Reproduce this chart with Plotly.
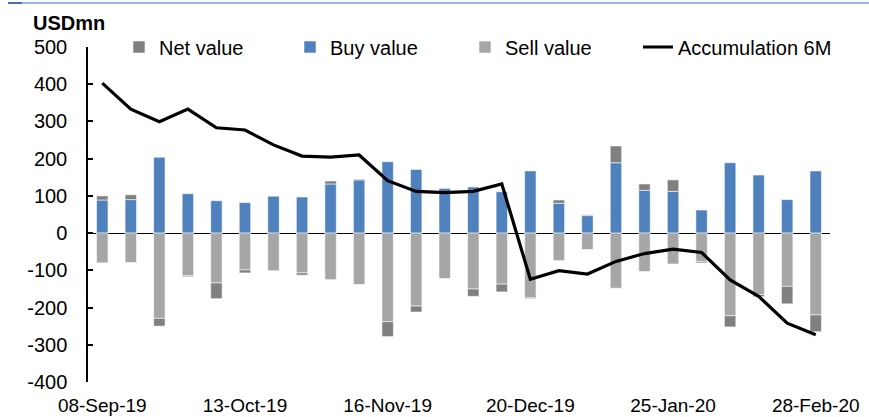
import plotly.graph_objects as go

dates = ["08-Sep-19", "15-Sep-19", "22-Sep-19", "29-Sep-19", "06-Oct-19",
         "13-Oct-19", "20-Oct-19", "27-Oct-19", "03-Nov-19", "09-Nov-19",
         "16-Nov-19", "23-Nov-19", "30-Nov-19", "07-Dec-19", "14-Dec-19",
         "20-Dec-19", "27-Dec-19", "03-Jan-20", "10-Jan-20", "17-Jan-20",
         "25-Jan-20", "01-Feb-20", "08-Feb-20", "15-Feb-20", "22-Feb-20",
         "28-Feb-20"]
tick_labels = ["08-Sep-19", "13-Oct-19", "16-Nov-19", "20-Dec-19", "25-Jan-20", "28-Feb-20"]
y_tick_values = [-400, -300, -200, -100, 0, 100, 200, 300, 400, 500]
y_tick_labels = ["-400", "-300", "-200", "-100", "0", "100", "200", "300", "400", "500"]

buy_value = [89, 90, 204, 106, 87, 82, 100, 97, 132, 143, 192, 171, 121,
             124, 111, 167, 80, 47, 189, 115, 112, 62, 189, 156, 90, 167]
sell_value = [-80, -79, -229, -114, -134, -99, -101, -107, -125, -138, -238,
              -196, -122, -150, -137, -174, -74, -44, -148, -103, -83, -76,
              -222, -165, -143, -220]
net_value = [11, 13, -21, -3, -42, -8, 0, -6, 8, 2, -40, -16, 0, -20, -21,
             -2, 9, 2, 45, 17, 31, -4, -30, -6, -47, -45]
accumulation_6m = [403, 333, 299, 333, 283, 277, 237, 207, 204, 210, 141, 112,
                   109, 112, 132, -124, -101, -110, -76, -55, -43, -52, -126,
                   -170, -242, -273]

FONT = "Liberation Sans, Arial, sans-serif"
FS = 20
edge = dict(color="rgba(255,255,255,0.55)", width=1)

fig = go.Figure()
fig.add_trace(go.Bar(x=dates, y=buy_value, name="Buy value",
                     marker=dict(color="#4F81BD", line=edge), legend="legend2"))
fig.add_trace(go.Bar(x=dates, y=sell_value, name="Sell value",
                     marker=dict(color="#A6A6A6", line=edge), legend="legend3"))
fig.add_trace(go.Bar(x=dates, y=net_value, name="Net value",
                     marker=dict(color="#808080", line=edge), legend="legend"))
fig.add_trace(go.Scatter(x=dates, y=accumulation_6m, name="Accumulation 6M",
                         mode="lines", line=dict(color="black", width=3.2),
                         legend="legend4"))

W, H = 869, 417
ml, mr, mt, mb = 88, 39, 47, 35
pw = W - ml - mr
ph = H - mt - mb

def px_x(p):
    return (p - ml) / pw

def px_y(p):
    return 1 + (mt - p) / ph

def leg(xpx):
    return dict(orientation="h", x=px_x(xpx), xanchor="left",
                y=px_y(47), yanchor="middle", bgcolor="rgba(0,0,0,0)",
                font=dict(size=FS), itemwidth=30)

fig.update_layout(
    width=W, height=H,
    margin=dict(l=ml, r=mr, t=mt, b=mb, autoexpand=False),
    paper_bgcolor="white", plot_bgcolor="white",
    barmode="relative", bargap=0.6,
    font=dict(family=FONT, size=FS, color="black"),
    showlegend=True,
    legend=leg(119), legend2=leg(290), legend3=leg(465), legend4=leg(638),
    xaxis=dict(type="category", categoryorder="array", categoryarray=dates,
               tickmode="array", tickvals=tick_labels, ticktext=tick_labels,
               showline=False, showgrid=False, zeroline=False, ticks="",
               range=[-0.5, len(dates) - 0.5], ticklabelstandoff=10,
               tickfont=dict(size=19)),
    yaxis=dict(range=[-400, 500], tickmode="array", tickvals=y_tick_values,
               ticktext=y_tick_labels,
               showgrid=False, showline=True, linecolor="black", linewidth=1.5,
               ticks="inside", ticklen=5, tickwidth=1.5, tickcolor="black",
               zeroline=True, zerolinecolor="black", zerolinewidth=1,
               ticklabelstandoff=15, layer="above traces",
               tickfont=dict(size=FS)),
    annotations=[dict(text="<b>USDmn</b>", xref="paper", yref="paper",
                      x=px_x(31), y=px_y(23), xanchor="left", yanchor="middle",
                      showarrow=False, font=dict(size=FS, family=FONT))],
    shapes=[
        dict(type="line", xref="paper", yref="paper", x0=px_x(8), x1=px_x(22),
             y0=px_y(3), y1=px_y(3), line=dict(color="#3F6FB0", width=2)),
        dict(type="line", xref="paper", yref="paper", x0=px_x(22), x1=px_x(869),
             y0=px_y(3), y1=px_y(3), line=dict(color="#6FA0DC", width=1.5)),
    ],
)

fig.write_html("out.html", config={"displayModeBar": False},
               post_script="document.body.style.margin='0';")
